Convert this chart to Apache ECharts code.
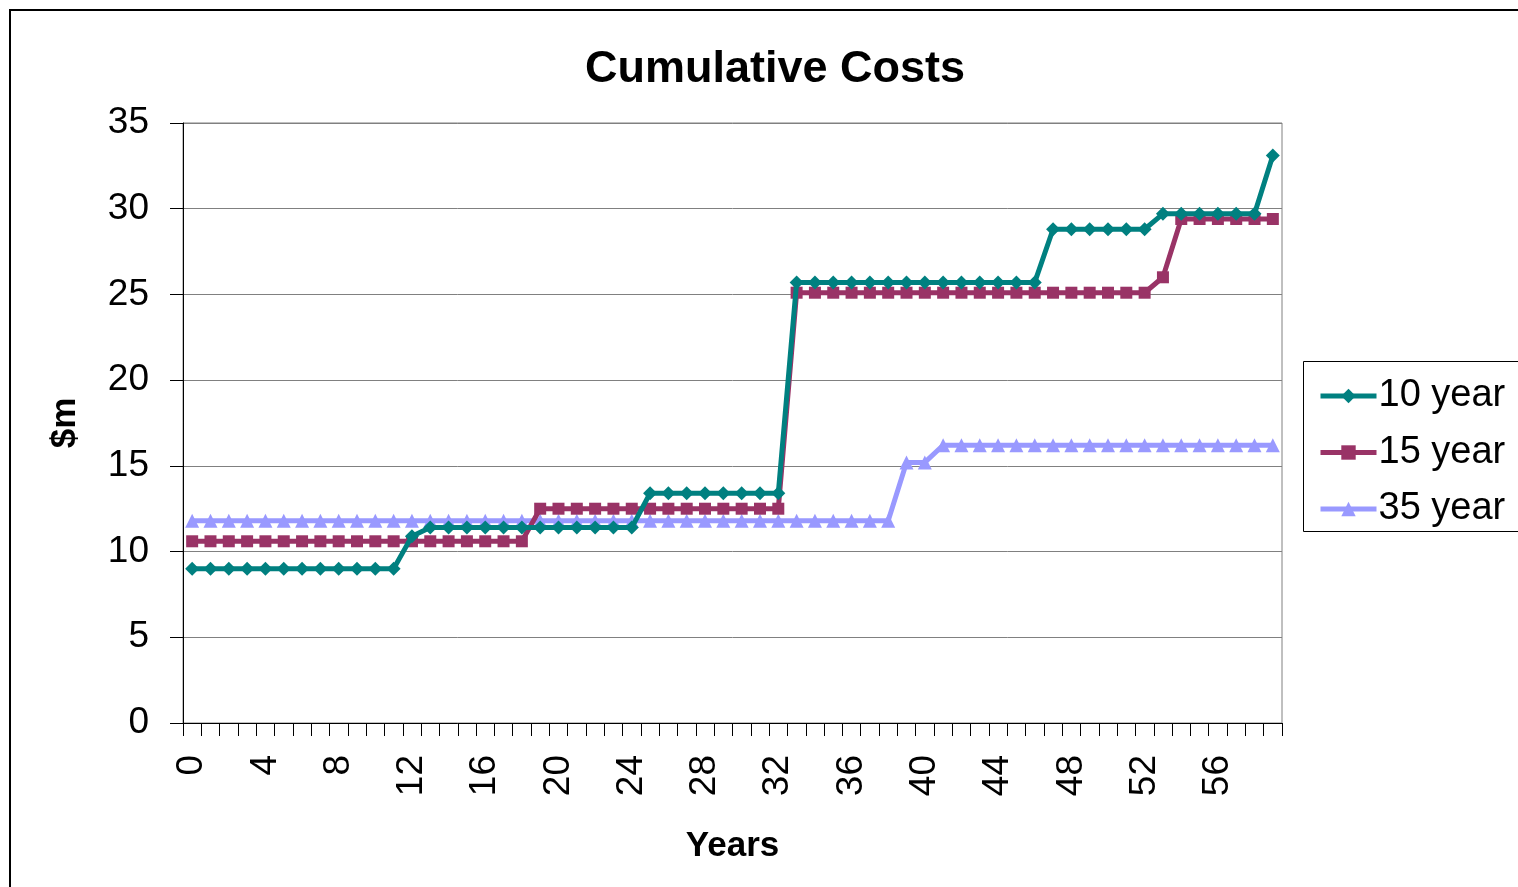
<!DOCTYPE html>
<html>
<head>
<meta charset="utf-8">
<title>Cumulative Costs</title>
<script src="https://cdn.jsdelivr.net/npm/echarts@6/dist/echarts.min.js"></script>
<style>
  html, body { margin: 0; padding: 0; background: #fff; }
  #chart { width: 1518px; height: 887px; }
</style>
</head>
<body>
<div id="chart"></div>
<script>
// Year index along the horizontal axis
const years = [
  0, 1, 2, 3, 4, 5, 6, 7, 8, 9,
  10, 11, 12, 13, 14, 15, 16, 17, 18, 19,
  20, 21, 22, 23, 24, 25, 26, 27, 28, 29,
  30, 31, 32, 33, 34, 35, 36, 37, 38, 39,
  40, 41, 42, 43, 44, 45, 46, 47, 48, 49,
  50, 51, 52, 53, 54, 55, 56, 57, 58, 59
];

// Cumulative cost ($m) for each replacement cycle
const tenYear = [
  9.0, 9.0, 9.0, 9.0, 9.0, 9.0, 9.0, 9.0, 9.0, 9.0,
  9.0, 9.0, 10.9, 11.4, 11.4, 11.4, 11.4, 11.4, 11.4, 11.4,
  11.4, 11.4, 11.4, 11.4, 11.4, 13.4, 13.4, 13.4, 13.4, 13.4,
  13.4, 13.4, 13.4, 25.7, 25.7, 25.7, 25.7, 25.7, 25.7, 25.7,
  25.7, 25.7, 25.7, 25.7, 25.7, 25.7, 25.7, 28.8, 28.8, 28.8,
  28.8, 28.8, 28.8, 29.7, 29.7, 29.7, 29.7, 29.7, 29.7, 33.1
];
const fifteenYear = [
  10.6, 10.6, 10.6, 10.6, 10.6, 10.6, 10.6, 10.6, 10.6, 10.6,
  10.6, 10.6, 10.6, 10.6, 10.6, 10.6, 10.6, 10.6, 10.6, 12.5,
  12.5, 12.5, 12.5, 12.5, 12.5, 12.5, 12.5, 12.5, 12.5, 12.5,
  12.5, 12.5, 12.5, 25.1, 25.1, 25.1, 25.1, 25.1, 25.1, 25.1,
  25.1, 25.1, 25.1, 25.1, 25.1, 25.1, 25.1, 25.1, 25.1, 25.1,
  25.1, 25.1, 25.1, 26.0, 29.4, 29.4, 29.4, 29.4, 29.4, 29.4
];
const thirtyFiveYear = [
  11.8, 11.8, 11.8, 11.8, 11.8, 11.8, 11.8, 11.8, 11.8, 11.8,
  11.8, 11.8, 11.8, 11.8, 11.8, 11.8, 11.8, 11.8, 11.8, 11.8,
  11.8, 11.8, 11.8, 11.8, 11.8, 11.8, 11.8, 11.8, 11.8, 11.8,
  11.8, 11.8, 11.8, 11.8, 11.8, 11.8, 11.8, 11.8, 11.8, 15.2,
  15.2, 16.2, 16.2, 16.2, 16.2, 16.2, 16.2, 16.2, 16.2, 16.2,
  16.2, 16.2, 16.2, 16.2, 16.2, 16.2, 16.2, 16.2, 16.2, 16.2
];

const seriesNames = ['10 year', '15 year', '35 year'];
const seriesColors = ['#008080', '#993366', '#9999FF'];
const seriesSymbols = ['diamond', 'rect', 'triangle'];
const seriesSizes = [14, 12, 14];
const seriesData = [tenYear, fifteenYear, thirtyFiveYear];

const FONT = '"Liberation Sans", Arial, sans-serif';

const chart = echarts.init(document.getElementById('chart'), null, { renderer: 'canvas' });

chart.setOption({
  backgroundColor: '#ffffff',
  animation: false,
  title: {
    text: 'Cumulative Costs',
    left: 770,
    top: 42,
    textAlign: 'center',
    textStyle: { fontFamily: FONT, fontSize: 45, fontWeight: 'bold', color: '#000' }
  },
  graphic: [
    {
      type: 'rect',
      z: -10,
      shape: { x: 10, y: 10, width: 1700, height: 1000 },
      style: { fill: 'none', stroke: '#000', lineWidth: 2 }
    },
    {
      type: 'rect',
      z: 1,
      shape: { x: 1303.5, y: 361.5, width: 300, height: 170 },
      style: { fill: '#fff', stroke: '#000', lineWidth: 1 }
    }
  ],
  legend: {
    orient: 'vertical',
    left: 1313,
    top: 371,
    z: 5,
    itemWidth: 56,
    itemHeight: 18,
    itemGap: 16.5,
    data: seriesNames,
    lineStyle: { width: 5 },
    textStyle: { fontFamily: FONT, fontSize: 38, lineHeight: 40, color: '#000', padding: [0, 0, 0, -3] }
  },
  grid: {
    left: 183,
    right: 236,
    top: 123,
    bottom: 164,
    show: true,
    borderColor: '#808080',
    borderWidth: 1
  },
  xAxis: {
    type: 'category',
    data: years,
    boundaryGap: true,
    name: 'Years',
    nameLocation: 'middle',
    nameGap: 106,
    nameTextStyle: { fontFamily: FONT, fontSize: 35, fontWeight: 'bold', color: '#000' },
    axisLine: { lineStyle: { color: '#000', width: 1 } },
    axisTick: { show: true, interval: 0, length: 13, lineStyle: { color: '#000' } },
    axisLabel: {
      interval: 3,
      rotate: 90,
      margin: 32,
      fontFamily: FONT,
      fontSize: 37,
      color: '#000'
    },
    splitLine: { show: false }
  },
  yAxis: {
    type: 'value',
    min: 0,
    max: 35,
    interval: 5,
    name: '$m',
    nameLocation: 'middle',
    nameGap: 100,
    nameTextStyle: { fontFamily: FONT, fontSize: 35, fontWeight: 'bold', color: '#000' },
    axisLine: { show: true, lineStyle: { color: '#000', width: 1 } },
    axisTick: { show: true, length: 13, lineStyle: { color: '#000' } },
    axisLabel: { margin: 34, fontFamily: FONT, fontSize: 37, color: '#000' },
    splitLine: { show: true, lineStyle: { color: '#808080', width: 1 } }
  },
  series: seriesNames.map((name, i) => ({
    name: name,
    type: 'line',
    data: seriesData[i],
    symbol: seriesSymbols[i],
    symbolSize: seriesSizes[i],
    showSymbol: true,
    showAllSymbol: true,
    color: seriesColors[i],
    lineStyle: { color: seriesColors[i], width: 5 },
    itemStyle: { color: seriesColors[i] },
    z: 3 - i
  }))
});
</script>
</body>
</html>
